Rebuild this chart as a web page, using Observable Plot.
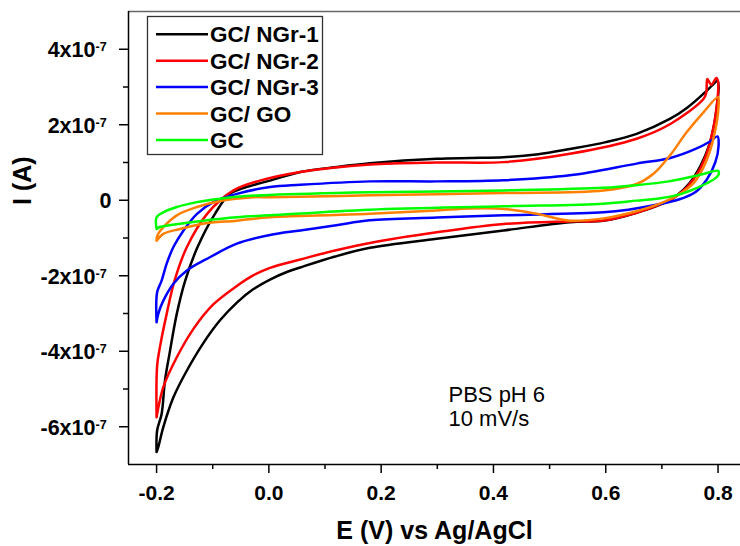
<!DOCTYPE html>
<html>
<head>
<meta charset="utf-8">
<script src="https://cdn.jsdelivr.net/npm/d3@7"></script>
<script src="https://cdn.jsdelivr.net/npm/@observablehq/plot@0.6"></script>
<style>
  html, body { margin: 0; padding: 0; background: #ffffff; }
  #chart { width: 740px; height: 546px; overflow: hidden; }
</style>
</head>
<body>
<div id="chart"></div>
<script>
// ---- Data (E in V vs Ag/AgCl, I in units of 1e-7 A) ----
const seriesNames = ["GC/ NGr-1", "GC/ NGr-2", "GC/ NGr-3", "GC/ GO", "GC"];
const seriesColors = ["#000000", "#ff0000", "#0000ff", "#ff8000", "#00ff00"];

const ngr1E = [-0.200,-0.199,-0.191,-0.185,-0.177,-0.164,-0.149,-0.127,-0.096,-0.069,-0.028,0.002,0.056,0.120,0.180,0.299,0.360,0.418,0.480,0.536,0.600,0.655,0.715,0.745,0.774,0.790,0.799,
               0.801,0.798,0.793,0.784,0.769,0.749,0.726,0.702,0.657,0.598,0.536,0.418,0.299,0.180,0.118,0.056,0.032,0.002,-0.028,-0.057,-0.087,-0.117,-0.146,-0.170,-0.188,-0.197,-0.200];
const ngr1I = [-6.67,-6.10,-5.66,-4.77,-4.07,-3.01,-2.13,-1.24,-0.36,0.17,0.40,0.52,0.75,0.88,0.98,1.10,1.12,1.14,1.22,1.36,1.54,1.76,2.16,2.45,2.82,3.05,3.17,
               3.00,2.50,2.00,1.45,0.92,0.45,0.12,-0.08,-0.32,-0.54,-0.58,-0.80,-1.02,-1.26,-1.49,-1.78,-1.90,-2.10,-2.36,-2.71,-3.18,-3.79,-4.51,-5.22,-6.01,-6.54,-6.67];

const ngr2E = [-0.200,-0.199,-0.194,-0.182,-0.168,-0.146,-0.110,-0.063,-0.016,0.056,0.180,0.299,0.418,0.536,0.655,0.715,0.774,0.779,0.781,0.788,0.797,0.800,
               0.800,0.796,0.790,0.780,0.765,0.745,0.720,0.690,0.655,0.596,0.536,0.418,0.299,0.180,0.118,0.056,0.002,-0.028,-0.057,-0.099,-0.134,-0.164,-0.188,-0.199,-0.200];
const ngr2I = [-5.75,-4.38,-3.89,-3.01,-2.13,-1.24,-0.36,0.26,0.52,0.75,0.95,1.00,1.01,1.23,1.63,2.02,2.68,2.85,3.21,3.06,3.24,3.15,
               2.85,2.30,1.80,1.25,0.75,0.35,0.05,-0.15,-0.33,-0.54,-0.56,-0.63,-0.85,-1.13,-1.33,-1.57,-1.79,-1.99,-2.27,-2.76,-3.40,-4.16,-4.95,-5.66,-5.75];

const ngr3E = [-0.200,-0.199,-0.191,-0.182,-0.170,-0.152,-0.128,-0.099,-0.057,0.002,0.056,0.180,0.299,0.418,0.536,0.655,0.715,0.760,0.785,0.799,
               0.801,0.795,0.780,0.760,0.730,0.690,0.640,0.596,0.418,0.299,0.180,0.120,0.056,0.002,-0.057,-0.105,-0.146,-0.170,-0.188,-0.197,-0.200];
const ngr3I = [-3.23,-2.44,-2.13,-1.68,-1.24,-0.80,-0.36,-0.05,0.17,0.35,0.41,0.50,0.50,0.53,0.66,0.97,1.12,1.36,1.55,1.69,
               1.45,1.00,0.55,0.22,0.02,-0.12,-0.25,-0.32,-0.40,-0.46,-0.53,-0.66,-0.80,-0.92,-1.15,-1.51,-1.86,-2.21,-2.66,-3.01,-3.23];

const goE = [-0.200,-0.199,-0.194,-0.188,-0.164,-0.128,-0.087,-0.028,0.002,0.180,0.418,0.596,0.655,0.685,0.715,0.744,0.774,0.800,
             0.801,0.792,0.778,0.758,0.732,0.703,0.655,0.596,0.536,0.477,0.418,0.358,0.299,0.180,0.002,-0.057,-0.117,-0.158,-0.188,-0.200];
const goI = [-1.07,-0.95,-0.82,-0.71,-0.40,-0.18,-0.02,0.08,0.08,0.13,0.19,0.26,0.43,0.70,1.20,1.80,2.33,2.73,
             2.50,1.65,1.00,0.48,0.17,-0.05,-0.29,-0.48,-0.54,-0.36,-0.23,-0.22,-0.27,-0.36,-0.45,-0.54,-0.62,-0.76,-0.89,-1.07];

const gcE = [-0.200,-0.200,-0.188,-0.164,-0.128,-0.087,-0.057,0.002,0.180,0.418,0.596,0.655,0.712,0.770,0.800,
             0.801,0.795,0.780,0.760,0.735,0.700,0.655,0.596,0.418,0.180,0.002,-0.057,-0.117,-0.158,-0.194,-0.200];
const gcI = [-0.76,-0.45,-0.32,-0.18,-0.05,0.04,0.09,0.14,0.21,0.26,0.33,0.40,0.50,0.68,0.78,
             0.68,0.58,0.45,0.31,0.17,0.06,-0.01,-0.09,-0.16,-0.25,-0.40,-0.45,-0.54,-0.62,-0.71,-0.76];

// ticks
const xMajor = [-0.2, 0.0, 0.2, 0.4, 0.6, 0.8];
const xMajorLabels = ["-0.2", "0.0", "0.2", "0.4", "0.6", "0.8"];
const xMinor = [-0.1, 0.1, 0.3, 0.5, 0.7];
const yMajor = [-6, -4, -2, 0, 2, 4];
const yMajorBase = ["-6x10", "-4x10", "-2x10", "0", "2x10", "4x10"];
const yMajorExp = ["-7", "-7", "-7", "", "-7", "-7"];
const yMinor = [-5, -3, -1, 1, 3];

// ---- Build table ----
const seriesE = [ngr1E, ngr2E, ngr3E, goE, gcE];
const seriesI = [ngr1I, ngr2I, ngr3I, goI, gcI];
const rows = [];
seriesNames.forEach((name, s) => {
  seriesE[s].forEach((e, k) => rows.push({series: name, E: e, I: seriesI[s][k], k}));
});
const yExpIdx = yMajor.map((d, i) => i).filter(i => yMajorExp[i] !== "");
const yZeroIdx = yMajor.map((d, i) => i).filter(i => yMajorExp[i] === "");

const FONT = "Arial, 'Liberation Sans', Helvetica, sans-serif";

function legendMark() {
  const g = d3.create("svg:g");
  g.append("rect")
    .attr("x", 147.5).attr("y", 16.5).attr("width", 175).attr("height", 138)
    .attr("fill", "white").attr("stroke", "#333").attr("stroke-width", 1.3);
  seriesNames.forEach((name, i) => {
    const cy = 34.3 + i * 26.4;
    g.append("line")
      .attr("x1", 156).attr("x2", 208).attr("y1", cy).attr("y2", cy)
      .attr("stroke", seriesColors[i]).attr("stroke-width", 2.5);
    g.append("text")
      .attr("x", 210).attr("y", cy).attr("dy", "0.36em")
      .attr("text-anchor", "start")
      .style("font-size", "22.5px").style("font-weight", "bold")
      .style("font-family", FONT).attr("fill", "black")
      .text(name);
  });
  return g.node();
}

const chart = Plot.plot({
  width: 740,
  height: 546,
  marginLeft: 128,
  marginRight: 0,
  marginTop: 11,
  marginBottom: 82,
  style: {fontFamily: FONT, background: "white", color: "black", fontWeight: "bold"},
  x: {domain: [-0.25, 0.84], label: null},
  y: {domain: [-7, 5], label: null},
  color: {domain: seriesNames, range: seriesColors},
  marks: [
    Plot.ruleY([5], {stroke: "#666", strokeWidth: 1.5}),
    Plot.line(rows, {x: "E", y: "I", z: "series", stroke: "series", strokeWidth: 2.5, curve: "catmull-rom"}),
    Plot.ruleX([-0.25], {stroke: "black", strokeWidth: 1.5}),
    Plot.ruleY([-7], {stroke: "black", strokeWidth: 1.5}),
    Plot.axisX(xMajor, {anchor: "bottom", tickSize: 9, tickPadding: 12, strokeWidth: 1.5, fontSize: 21, fontWeight: "bold",
      tickFormat: (d) => xMajorLabels[xMajor.indexOf(d)], label: null}),
    Plot.axisX(xMinor, {anchor: "bottom", tickSize: 5, strokeWidth: 1.5, tickFormat: () => "", label: null}),
    Plot.axisY(yMajor, {anchor: "left", tickSize: 9, strokeWidth: 1.5, tickFormat: () => "", label: null}),
    Plot.axisY(yMinor, {anchor: "left", tickSize: 5, strokeWidth: 1.5, tickFormat: () => "", label: null}),
    Plot.text(yExpIdx, {y: i => yMajor[i], text: i => yMajorBase[i], frameAnchor: "left", textAnchor: "end",
      dx: -33, dy: 8, lineAnchor: "bottom", fontSize: 21.5, fontWeight: "bold"}),
    Plot.text(yExpIdx, {y: i => yMajor[i], text: i => yMajorExp[i], frameAnchor: "left", textAnchor: "start",
      dx: -33, dy: 2, lineAnchor: "bottom", fontSize: 12.5, fontWeight: "bold"}),
    Plot.text(yZeroIdx, {y: i => yMajor[i], text: i => yMajorBase[i], frameAnchor: "left", textAnchor: "end",
      dx: -17, dy: 8, lineAnchor: "bottom", fontSize: 21.5, fontWeight: "bold"}),
    Plot.text(["E (V) vs Ag/AgCl"], {frameAnchor: "bottom", dy: 74, lineAnchor: "bottom", fontSize: 25, fontWeight: "bold"}),
    Plot.text(["I (A)"], {frameAnchor: "left", dx: -98, dy: -33, rotate: -90, lineAnchor: "bottom", fontSize: 25, fontWeight: "bold"}),
    Plot.text(["PBS pH 6"], {frameAnchor: "top-left", dx: 320, dy: 390, textAnchor: "start", lineAnchor: "bottom", fontSize: 22, fontWeight: "normal"}),
    Plot.text(["10 mV/s"], {frameAnchor: "top-left", dx: 320, dy: 414, textAnchor: "start", lineAnchor: "bottom", fontSize: 22, fontWeight: "normal"}),
    legendMark
  ]
});
document.getElementById("chart").appendChild(chart);
</script>
</body>
</html>
